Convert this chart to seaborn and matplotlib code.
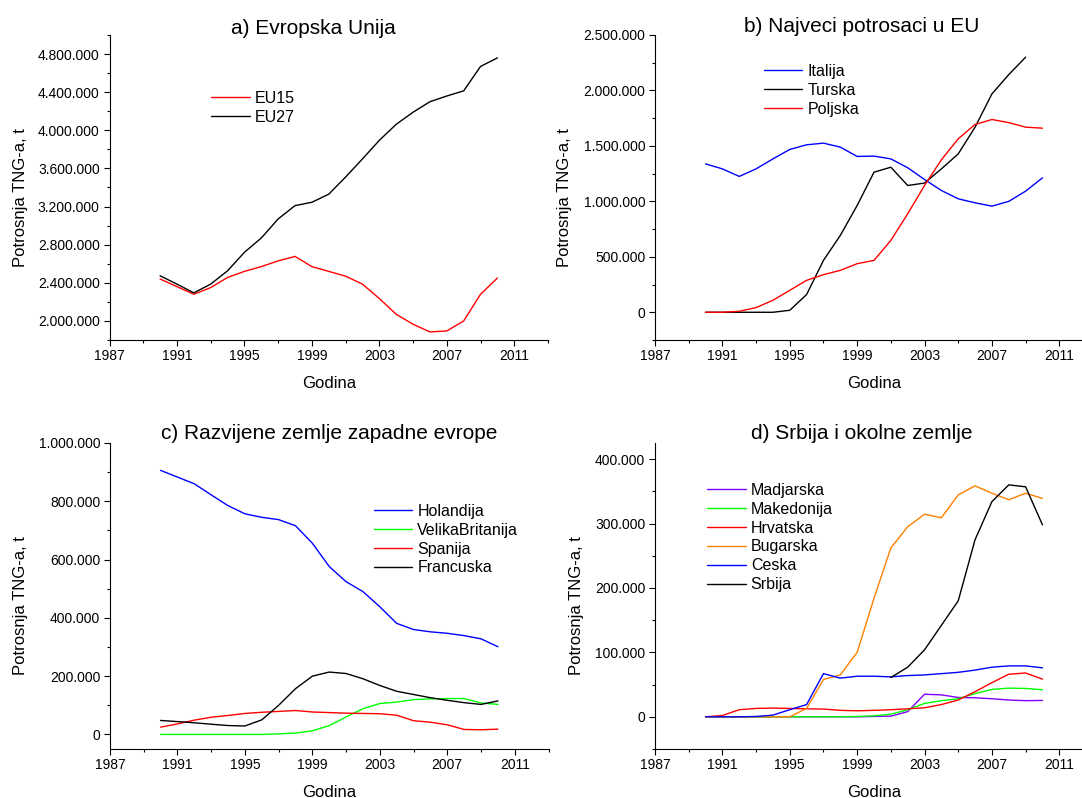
import numpy as np
import pandas as pd
import matplotlib
matplotlib.use("Agg")
import matplotlib.pyplot as plt
from matplotlib.ticker import FuncFormatter, MultipleLocator
import seaborn as sns

nan = np.nan
years = list(range(1990, 2011))

# a) Evropska Unija
eu_names = ["EU15", "EU27"]
eu15 = [2440000, 2360000, 2280000, 2350000, 2456000, 2520000, 2570000, 2630000, 2677000, 2570000, 2520000,
        2470000, 2386000, 2235000, 2070000, 1965000, 1885000, 1895000, 2000000, 2280000, 2450000]
eu27 = [2474000, 2386000, 2295000, 2386000, 2526000, 2720000, 2870000, 3070000, 3210000, 3245000, 3330000,
        3510000, 3700000, 3895000, 4063000, 4190000, 4300000, 4360000, 4414000, 4670000, 4760000]

# b) Najveci potrosaci u EU
big_names = ["Italija", "Turska", "Poljska"]
italija = [1338000, 1293000, 1225000, 1293000, 1383000, 1468000, 1510000, 1525000, 1489000, 1405000, 1408000,
           1383000, 1303000, 1197000, 1098000, 1023000, 987000, 957000, 1000000, 1092000, 1212000]
turska = [0, 0, 0, 0, 0, 18000, 160000, 468000, 693000, 963000, 1263000,
          1308000, 1143000, 1165000, 1293000, 1428000, 1669000, 1969000, 2143000, 2300000, nan]
poljska = [0, 0, 9000, 42000, 108000, 198000, 288000, 339000, 378000, 438000, 468000,
           648000, 888000, 1143000, 1375000, 1564000, 1693000, 1738000, 1710000, 1669000, 1660000]

# c) Razvijene zemlje zapadne evrope
west_names = ["Holandija", "VelikaBritanija", "Spanija", "Francuska"]
holandija = [906000, 883000, 860000, 822000, 785000, 757000, 745000, 737000, 716000, 656000, 576000,
             524000, 490000, 438000, 381000, 360000, 352000, 347000, 339000, 328000, 301000]
velika_britanija = [0, 0, 0, 0, 0, 0, 0, 2000, 4600, 12600, 30000,
                    60000, 88500, 106000, 111000, 119500, 122000, 123000, 123000, 108000, 103000]
spanija = [25000, 36000, 49000, 59000, 65000, 72000, 76000, 79000, 82000, 77000, 75000,
           73000, 72000, 71000, 66000, 47000, 42000, 33000, 17000, 16000, 18000]
francuska = [48000, 44000, 40000, 35000, 30500, 29000, 50000, 100000, 157000, 200000, 214000,
             209000, 191000, 168000, 148000, 137000, 126000, 117000, 109000, 103000, 115000]

# d) Srbija i okolne zemlje
near_names = ["Madjarska", "Makedonija", "Hrvatska", "Bugarska", "Ceska", "Srbija"]
madjarska = [0, 0, 0, 0, 0, 0, 0, 0, 0, 0, 500,
             1000, 8000, 35000, 34000, 30000, 29500, 28000, 26000, 25000, 25400]
makedonija = [0, 0, 0, 0, 0, 0, 0, 0, 0, 500, 1500,
              4000, 11000, 20700, 25000, 28000, 36000, 42500, 44500, 44000, 42000]
hrvatska = [0, 2000, 11000, 13000, 13500, 13000, 12400, 12000, 10000, 9300, 10000,
            11000, 12400, 14000, 19000, 26000, 39000, 53000, 66000, 68000, 58500]
bugarska = [0, 0, 0, 0, 0, 0, 13000, 58000, 65000, 100000, 184000,
            262000, 295000, 314500, 309000, 344500, 358500, 347000, 337000, 347000, 339000]
ceska = [0, 0, 0, 500, 2600, 11000, 19000, 67000, 60000, 63000, 63000,
         62000, 64000, 65000, 67000, 69000, 72500, 77000, 79000, 79000, 76000]
srbija = [nan, nan, nan, nan, nan, nan, nan, nan, nan, nan, nan,
          61000, 77000, 104000, 142000, 180000, 275000, 334000, 360000, 357000, 298000]

W, H = 1082, 798
sns.set_style("ticks")
plt.rcParams["font.family"] = ["Liberation Sans", "DejaVu Sans"]
plt.rcParams["text.color"] = "black"
plt.rcParams["axes.labelcolor"] = "black"
plt.rcParams["xtick.color"] = "black"
plt.rcParams["ytick.color"] = "black"

fig = plt.figure(figsize=(W / 100, H / 100), dpi=100)


def thousands(v, pos):
    return f"{v:,.0f}".replace(",", ".")


def panel(rect, names, series, colors, title, title_xy, ylim, ymajor, leg_xy):
    ax = fig.add_axes([rect[0] / W, 1 - rect[3] / H, (rect[2] - rect[0]) / W, (rect[3] - rect[1]) / H])
    df = pd.DataFrame({"Godina": years * len(names),
                       "Vrednost": np.concatenate(series),
                       "Zemlja": np.repeat(names, len(years))}).dropna()
    sns.lineplot(data=df, x="Godina", y="Vrednost", hue="Zemlja", hue_order=names,
                 palette=colors, estimator=None, errorbar=None, linewidth=1.0, legend=False, ax=ax)
    ax.set_xlim(1987, 2013)
    ax.set_ylim(*ylim)
    ax.set_xticks(range(1987, 2012, 4))
    ax.set_xticks(range(1987, 2014, 2), minor=True)
    ax.yaxis.set_major_locator(MultipleLocator(ymajor))
    ax.yaxis.set_minor_locator(MultipleLocator(ymajor / 2))
    ax.yaxis.set_major_formatter(FuncFormatter(thousands))
    sns.despine(ax=ax)
    for s in ["left", "bottom"]:
        ax.spines[s].set_linewidth(0.8)
        ax.spines[s].set_color("black")
    ax.tick_params(which="major", direction="out", length=4, width=0.8, color="black",
                   labelsize=10, labelcolor="black")
    ax.tick_params(which="minor", direction="out", length=2.5, width=0.8, color="black")
    ax.tick_params(axis="x", pad=2.5)
    ax.tick_params(axis="y", pad=3)
    ax.set_xlabel("Godina", fontsize=12, color="black")
    ax.set_ylabel("Potrosnja TNG-a, t", fontsize=12, va="center", color="black")
    ax.xaxis.set_label_coords(0.5, -0.118)
    ax.yaxis.set_label_coords((rect[4] - rect[0]) / (rect[2] - rect[0]), 0.468)
    fig.text(title_xy[0] / W, 1 - title_xy[1] / H, title, fontsize=15, ha="center", va="center",
             color="black")
    ax.legend(ax.lines, names, loc="upper left", bbox_to_anchor=(leg_xy[0] / W, 1 - leg_xy[1] / H),
              bbox_transform=fig.transFigure, frameon=False, fontsize=11.5, borderpad=0,
              borderaxespad=0, handlelength=2.44, handletextpad=0.3, labelspacing=0.24,
              labelcolor="black")
    return ax


# rect = (left, top, right, bottom, ylabel centre x) in pixels
panel((109.5, 35, 548, 340, 21), eu_names, [eu15, eu27], ["#FF0000", "#000000"],
      "a) Evropska Unija", (313, 28), (1800000, 5000000), 400000, (210.6, 91))
panel((655, 35, 1093, 340, 565), big_names, [italija, turska, poljska], ["#0000FF", "#000000", "#FF0000"],
      "b) Najveci potrosaci u EU", (862, 26), (-250000, 2500000), 500000, (763.5, 64))
panel((110, 443, 548.5, 749, 21), west_names, [holandija, velika_britanija, spanija, francuska],
      ["#0000FF", "#00FF00", "#FF0000", "#000000"],
      "c) Razvijene zemlje zapadne evrope", (329, 433), (-50000, 1000000), 200000, (373.5, 504))
panel((655, 443, 1093, 749, 576), near_names, [madjarska, makedonija, hrvatska, bugarska, ceska, srbija],
      ["#8000FF", "#00FF00", "#FF0000", "#FF8000", "#0000FF", "#000000"],
      "d) Srbija i okolne zemlje", (862, 433), (-50000, 425000), 100000, (707, 483))

fig.savefig("out.png", dpi=100, facecolor="white")
